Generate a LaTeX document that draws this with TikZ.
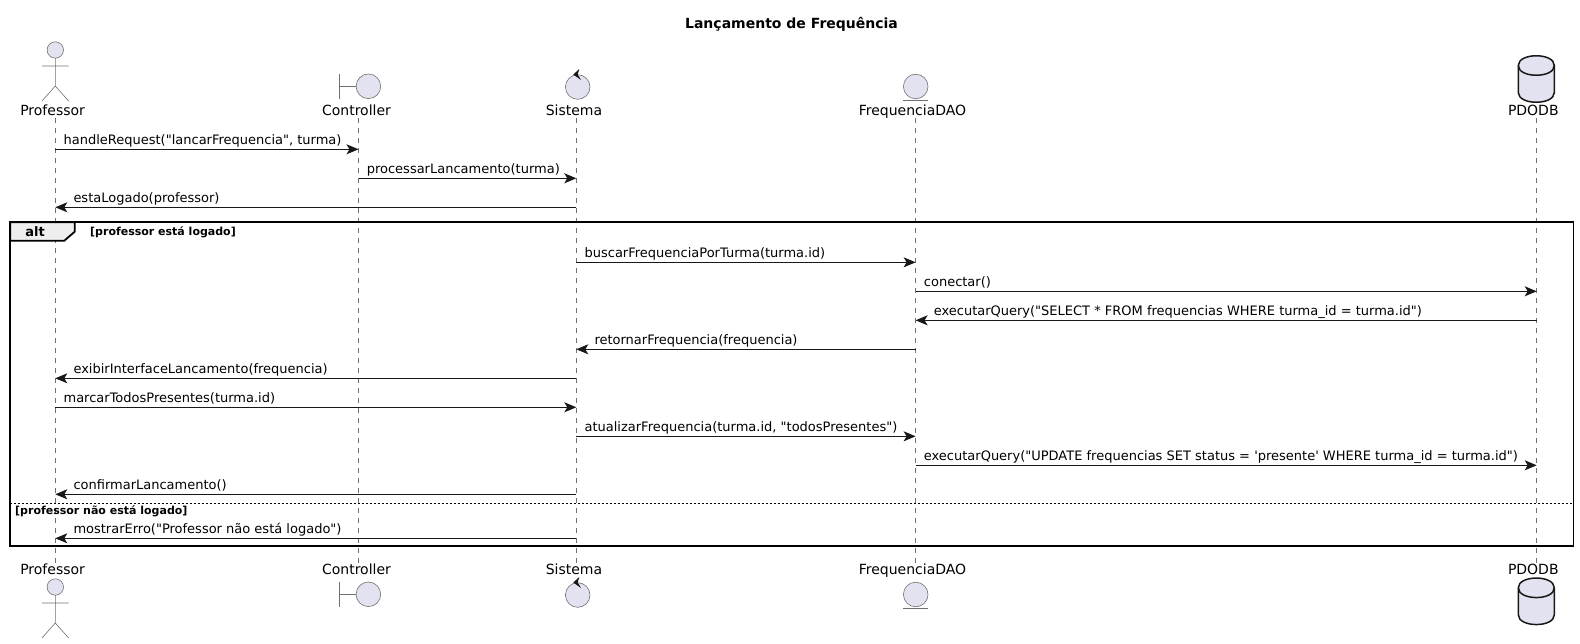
\documentclass[tikz,border=0pt]{standalone}
\usepackage{fontspec}
\usetikzlibrary{arrows.meta}
\newfontfamily\umlfont{DejaVu Sans}
\definecolor{lavande}{HTML}{E2E2F0}
\definecolor{encre}{HTML}{181818}
\definecolor{trait}{HTML}{707070}
\definecolor{onglet}{HTML}{EEEEEE}

\begin{document}
\begin{tikzpicture}[x=1pt, y=-1pt, font=\umlfont\fontsize{13}{15}\selectfont]
  \tikzstyle{icon}=[draw=trait, fill=lavande, line width=0.6pt]
  \tikzstyle{stick}=[draw=trait, line width=0.6pt]
  \tikzstyle{lifeline}=[draw=trait, line width=0.5pt, dash pattern=on 5pt off 5pt]
  \tikzstyle{msg}=[draw=encre, line width=1pt, -{Stealth[length=12pt, width=10pt, inset=3pt]}]
  \tikzstyle{toright}=[pos=0, anchor=base west, xshift=7.8pt, yshift=5pt, inner sep=0pt, text=black]
  \tikzstyle{toleft}=[pos=1, anchor=base west, xshift=17.7pt, yshift=5pt, inner sep=0pt, text=black]
  \tikzstyle{actorname}=[inner sep=0pt, anchor=base, text=black, font=\umlfont\fontsize{14}{16}\selectfont]
  \tikzstyle{guard}=[inner sep=0pt, anchor=base west, font=\umlfont\bfseries\fontsize{11}{13}\selectfont]

  \useasboundingbox (0,0) rectangle (1580,643);

  \node[inner sep=0pt, font=\umlfont\bfseries\fontsize{14}{16}\selectfont] (title) at (791.5,24) {Lançamento de Frequência};

  % lifelines
  \coordinate (Prof) at (55.3,118);  \coordinate (ProfEnd) at (55.3,564);
  \coordinate (Ctrl) at (358.5,118); \coordinate (CtrlEnd) at (358.5,564);
  \coordinate (Sist) at (576.3,118); \coordinate (SistEnd) at (576.3,564);
  \coordinate (Freq) at (915.6,118); \coordinate (FreqEnd) at (915.6,564);
  \coordinate (Base) at (1536.7,118);\coordinate (BaseEnd) at (1536.7,564);
  \draw[lifeline] (Prof) -- (ProfEnd);
  \draw[lifeline] (Ctrl) -- (CtrlEnd);
  \draw[lifeline] (Sist) -- (SistEnd);
  \draw[lifeline] (Freq) -- (FreqEnd);
  \draw[lifeline] (Base) -- (BaseEnd);

  \foreach \dy in {0,537} {
    \draw[icon] (55.3,50+\dy) circle (8.2pt);
    \draw[stick] (55.3,58.2+\dy) -- (55.3,86+\dy)
      (42,66+\dy) -- (68.6,66+\dy)
      (42,101+\dy) -- (55.3,86+\dy) -- (68.6,101+\dy);
  }
  \foreach \dy in {0,508} {
    \draw[stick] (339,74+\dy) -- (339,98.7+\dy) (339,86.3+\dy) -- (356,86.3+\dy);
    \draw[icon] (368.4,86.3+\dy) circle (12.3pt);
    \draw[icon] (577.7,87+\dy) circle (12.3pt);
    \fill[encre] (573.3,74.5+\dy) -- (579.3,69+\dy) -- (577.7,74.5+\dy) -- (581,80+\dy) -- cycle;
    \draw[icon] (915.7,86.5+\dy) circle (12.3pt);
    \draw[stick] (903.4,100.3+\dy) -- (928.2,100.3+\dy);
  }
  \foreach \dy in {0,522.3} {
    \draw[fill=lavande, draw=encre, line width=1.5pt]
      (1518.3,65.5+\dy) .. controls (1518.3,52.5+\dy) and (1554.3,52.5+\dy) .. (1554.3,65.5+\dy)
      -- (1554.3,92.5+\dy) .. controls (1554.3,105.5+\dy) and (1518.3,105.5+\dy) .. (1518.3,92.5+\dy) -- cycle;
    \draw[draw=encre, line width=1.5pt]
      (1518.3,65.5+\dy) .. controls (1518.3,78.5+\dy) and (1554.3,78.5+\dy) .. (1554.3,65.5+\dy);
  }

  % participants, top then bottom
  \foreach \yy/\tag in {115/T, 574.7/B} {
    \node[actorname] (prof\tag) at (52.6,\yy) {Professor};
    \node[actorname] (ctrl\tag) at (356.5,\yy) {Controller};
    \node[actorname] (sist\tag) at (574,\yy) {Sistema};
    \node[actorname] (freq\tag) at (912.5,\yy) {FrequenciaDAO};
    \node[actorname] (base\tag) at (1533.3,\yy) {PDODB};
  }

  % alt frame
  \draw[black, line width=1.8pt] (10.2,222.3) rectangle (1573.5,546);
  \draw[black, line width=1.8pt, fill=onglet] (10.2,222.3) -- (74.7,222.3) -- (74.7,231.7) -- (64.3,240.7) -- (10.2,240.7) -- cycle;
  \node[inner sep=0pt, anchor=base, font=\umlfont\bfseries\fontsize{13}{15}\selectfont] (alttag) at (35,236) {alt};
  \node[guard] (guardyes) at (90,235) {[professor está logado]};
  \node[guard] (guardno) at (15,514.7) {[professor não está logado]};
  \coordinate (elseL) at (10.2,503.3);
  \coordinate (elseR) at (1573.5,503.3);
  \draw[black, line width=1pt, dash pattern=on 2pt off 2pt] (elseL) -- (elseR);

  % message rows
  \foreach \n/\yy in {1/149.3, 2/178.3, 3/207.3, 4/262.3, 5/291.3, 6/320.3, 7/349.3,
                      8/378.3, 9/407.3, 10/436.3, 11/465.3, 12/494.3, 13/538.3}
    \coordinate (R\n) at (0,\yy);

  \path
    (Prof |- R1)  edge[msg] node[toright] {handleRequest("lancarFrequencia", turma)} (Ctrl |- R1)
    (Ctrl |- R2)  edge[msg] node[toright] {processarLancamento(turma)} (Sist |- R2)
    (Sist |- R3)  edge[msg] node[toleft]  {estaLogado(professor)} (Prof |- R3)
    (Sist |- R4)  edge[msg] node[toright] {buscarFrequenciaPorTurma(turma.id)} (Freq |- R4)
    (Freq |- R5)  edge[msg] node[toright] {conectar()} (Base |- R5)
    (Base |- R6)  edge[msg] node[toleft]  {executarQuery("SELECT * FROM frequencias WHERE turma\_id = turma.id")} (Freq |- R6)
    (Freq |- R7)  edge[msg] node[toleft]  {retornarFrequencia(frequencia)} (Sist |- R7)
    (Sist |- R8)  edge[msg] node[toleft]  {exibirInterfaceLancamento(frequencia)} (Prof |- R8)
    (Prof |- R9)  edge[msg] node[toright] {marcarTodosPresentes(turma.id)} (Sist |- R9)
    (Sist |- R10) edge[msg] node[toright] {atualizarFrequencia(turma.id, "todosPresentes")} (Freq |- R10)
    (Freq |- R11) edge[msg] node[toright] {executarQuery("UPDATE frequencias SET status = 'presente' WHERE turma\_id = turma.id")} (Base |- R11)
    (Sist |- R12) edge[msg] node[toleft]  {confirmarLancamento()} (Prof |- R12)
    (Sist |- R13) edge[msg] node[toleft]  {mostrarErro("Professor não está logado")} (Prof |- R13)
    ;

\end{tikzpicture}
\end{document}
